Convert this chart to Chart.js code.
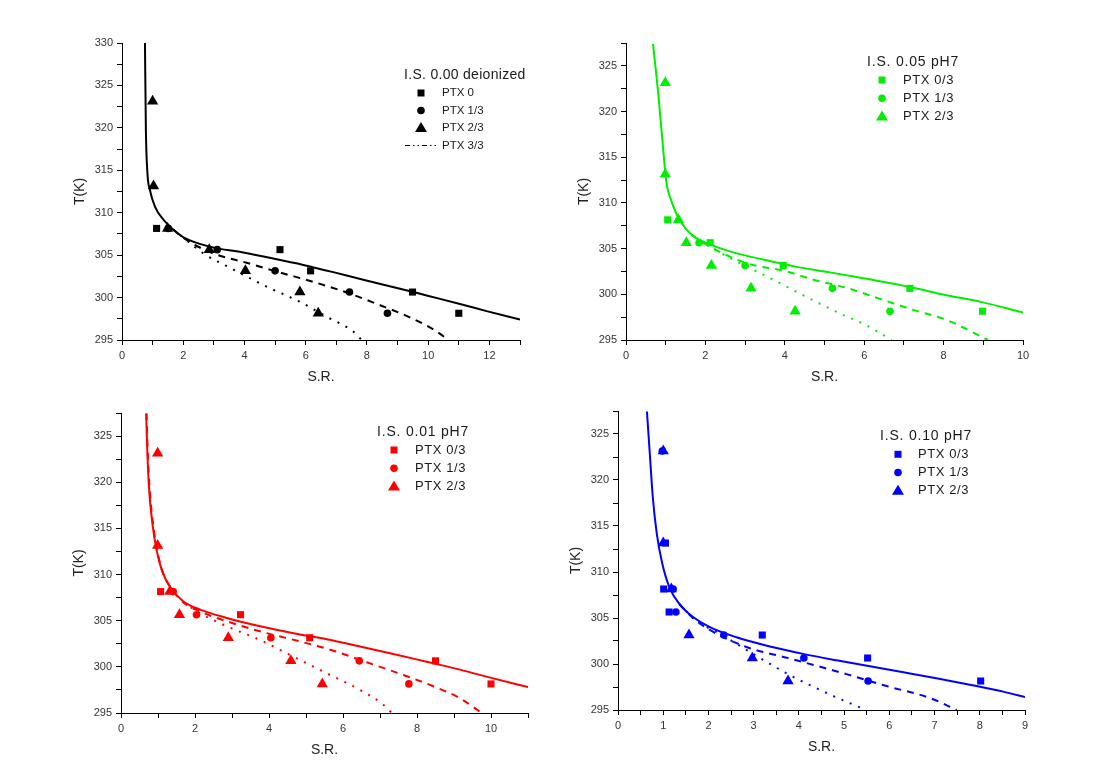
<!DOCTYPE html>
<html>
<head>
<meta charset="utf-8">
<title>T(K) vs S.R.</title>
<script src="https://cdn.jsdelivr.net/npm/chart.js@4.4.1/dist/chart.umd.min.js"></script>
<style>
    html, body { margin: 0; padding: 0; background: #fff; }
    body { width: 1095px; height: 772px; position: relative; overflow: hidden; }
    canvas { position: absolute; }
</style>
</head>
<body>
<canvas id="chart-di" style="left:60px;top:30px" width="475" height="360"></canvas>
<canvas id="chart-005" style="left:564px;top:30px" width="474" height="360"></canvas>
<canvas id="chart-001" style="left:59px;top:400px" width="484" height="363"></canvas>
<canvas id="chart-010" style="left:556px;top:398px" width="484" height="362"></canvas>
<script>
// T(K) vs S.R. - four ionic strength panels

const FONT = '"Liberation Sans", Arial, Helvetica, sans-serif';

// temperature levels used in the experiments
const T_ALL = [323.15, 313.15, 308.15, 305.65, 303.15, 300.65, 298.15];
const T_LOW = [308.15, 305.65, 303.15, 300.65, 298.15];

// I.S. 0.00 deionized
const diSquareX = [1.13, 5.16, 6.16, 9.49, 11.0];
const diCircleX = [1.51, 3.11, 5.0, 7.43, 8.67];
const diTriangleX = [1.0, 1.03, 1.49, 2.85, 4.03, 5.81, 6.41];
const diSolidX = [0.75, 0.78, 0.83, 0.91, 1.08, 1.35, 1.68, 2.06, 2.87, 3.96, 4.94, 5.92, 6.9, 7.88, 9.08, 9.95, 11.04, 11.91, 13.0];
const diSolidT = [330, 319.8, 314.7, 312.7, 310.7, 309.2, 308.0, 307.0, 306.0, 305.3, 304.6, 303.85, 303.0, 302.1, 301.05, 300.25, 299.25, 298.4, 297.4];
const diDashX = [1.68, 2.06, 2.98, 4.07, 5.16, 6.25, 7.34, 8.43, 9.41, 10.28, 10.66];
const diDashT = [308.0, 306.9, 305.2, 304.1, 302.95, 301.85, 300.6, 299.1, 297.65, 296.0, 295.0];
const diDotX = [1.68, 2.06, 2.66, 3.64, 4.72, 5.81, 6.68, 7.55, 7.83];
const diDotT = [308.0, 306.9, 305.2, 303.3, 301.3, 299.5, 297.75, 296.0, 295.0];

// I.S. 0.05 pH7
const s05SquareX = [1.05, 2.12, 3.96, 7.15, 8.98];
const s05CircleX = [1.84, 3.0, 5.2, 6.65];
const s05CircleT = [305.65, 303.15, 300.65, 298.15];
const s05TriangleX = [0.99, 0.99, 1.32, 1.52, 2.15, 3.15, 4.26];
const s05SolidX = [0.68, 0.82, 0.93, 1.01, 1.16, 1.37, 1.66, 2.04, 2.62, 3.46, 4.3, 5.14, 5.98, 7.15, 8.07, 8.91, 10.0];
const s05SolidT = [327.4, 321.6, 316.2, 312.5, 310.0, 308.0, 306.5, 305.6, 304.7, 303.8, 303.0, 302.4, 301.75, 300.8, 299.9, 299.2, 298.0];
const s05DashX = [1.66, 2.12, 3.04, 4.05, 4.72, 5.56, 6.4, 7.23, 8.07, 9.12];
const s05DashT = [306.5, 305.2, 303.4, 302.5, 301.6, 300.7, 299.5, 298.3, 297.2, 295.0];
const s05DotX = [1.66, 2.12, 2.88, 3.71, 4.55, 5.39, 6.06, 6.69];
const s05DotT = [306.5, 305.2, 303.4, 301.6, 299.7, 297.9, 296.6, 295.0];

// I.S. 0.01 pH7
const s01SquareX = [1.07, 3.23, 5.1, 8.5, 10.0];
const s01CircleX = [1.41, 2.04, 4.05, 6.44, 7.78];
const s01TriangleX = [0.99, 0.99, 1.32, 1.58, 2.9, 4.59, 5.44];
const s01SolidX = [0.68, 0.71, 0.76, 0.86, 0.96, 1.1, 1.32, 1.68, 2.14, 2.86, 3.76, 4.66, 5.56, 6.46, 7.36, 8.26, 9.16, 10.06, 11.0];
const s01SolidT = [327.45, 323.5, 319.2, 315.2, 312.7, 310.5, 308.7, 307.1, 306.2, 305.3, 304.4, 303.65, 303.0, 302.2, 301.4, 300.55, 299.7, 298.75, 297.8];
const s01DashX = [0.69, 0.73, 0.8, 0.9, 1.0, 1.15, 1.4, 1.68, 2.14, 3.04, 3.94, 4.84, 5.74, 6.64, 7.54, 8.44, 9.16, 9.75];
const s01DashT = [327.45, 322.5, 318.0, 314.5, 312.2, 310.0, 308.3, 307.0, 306.0, 304.7, 303.65, 302.75, 301.75, 300.5, 299.25, 297.9, 296.6, 295.0];
const s01DotX = [1.68, 2.14, 2.86, 3.76, 4.66, 5.56, 6.46, 7.09, 7.32];
const s01DotT = [307.0, 305.8, 304.4, 302.9, 301.1, 299.3, 297.5, 295.9, 295.0];

// I.S. 0.10 pH7
const s10SquareX = [1.05, 1.01, 1.13, 3.19, 5.52, 8.02];
const s10SquareT = [313.15, 308.15, 305.65, 303.15, 300.65, 298.15];
const s10CircleX = [0.98, 1.22, 1.28, 2.34, 4.11, 5.53];
const s10CircleT = [323.15, 308.15, 305.65, 303.15, 300.65, 298.15];
const s10TriangleX = [1.0, 1.0, 1.18, 1.57, 2.97, 3.76];
const s10TriangleT = [323.15, 313.15, 308.15, 303.15, 300.65, 298.15];
const s10SolidX = [0.64, 0.7, 0.77, 0.86, 0.98, 1.14, 1.36, 1.66, 2.03, 2.62, 3.36, 4.09, 4.83, 5.57, 6.31, 7.04, 7.78, 8.52, 9.0];
const s10SolidT = [327.45, 323.1, 318.1, 314.1, 310.9, 308.3, 306.5, 305.1, 304.0, 302.9, 301.9, 301.1, 300.4, 299.75, 299.1, 298.45, 297.75, 297.0, 296.4];
const s10DashX = [1.36, 1.66, 2.03, 2.84, 3.8, 5.05, 5.94, 6.9, 7.49];
const s10DashT = [306.5, 305.0, 303.7, 301.85, 300.6, 298.9, 297.6, 296.3, 295.0];
const s10DotX = [1.36, 1.73, 2.25, 2.99, 3.72, 4.46, 5.05, 5.49];
const s10DotT = [306.5, 304.7, 303.3, 301.1, 299.0, 297.2, 295.9, 295.0];

const LABELS_DI = ['PTX 0', 'PTX 1/3', 'PTX 2/3', 'PTX 3/3'];
const LABELS_PH7 = ['PTX 0/3', 'PTX 1/3', 'PTX 2/3'];

function pts(xs, ys) {
    return xs.map((x, i) => ({ x, y: ys[i] }));
}

function markers(xs, ys, style, radius, color, order) {
    return {
        data: pts(xs, ys),
        pointStyle: style,
        pointRadius: radius,
        pointBackgroundColor: color,
        pointBorderColor: color,
        pointBorderWidth: 0,
        showLine: false,
        order
    };
}

function curve(xs, ys, dash, color) {
    return {
        data: pts(xs, ys),
        showLine: true,
        borderColor: color,
        borderWidth: 2,
        borderDash: dash,
        pointRadius: 0,
        cubicInterpolationMode: 'monotone',
        fill: false,
        order: 5
    };
}

function drawSymbol(ctx, style, x, y, color) {
    ctx.fillStyle = color;
    ctx.strokeStyle = color;
    ctx.beginPath();
    if (style === 'rect') {
        ctx.rect(x - 3.5, y - 3.5, 7, 7);
        ctx.fill();
    } else if (style === 'circle') {
        ctx.arc(x, y, 3.8, 0, Math.PI * 2);
        ctx.fill();
    } else if (style === 'triangle') {
        ctx.moveTo(x, y - 6);
        ctx.lineTo(x + 6, y + 4);
        ctx.lineTo(x - 6, y + 4);
        ctx.closePath();
        ctx.fill();
    } else if (style === 'dashdot') {
        ctx.lineWidth = 1.2;
        ctx.setLineDash([5, 3, 1.5, 3, 1.5, 3]);
        ctx.moveTo(x - 16, y);
        ctx.lineTo(x + 17, y);
        ctx.stroke();
        ctx.setLineDash([]);
    }
}

// legend drawn inside the plot area, like the original figure
function insetLegend(cfg) {
    return {
        id: 'insetLegend',
        afterDatasetsDraw(chart) {
            const { ctx, chartArea } = chart;
            const x0 = chartArea.left;
            const y0 = chartArea.top;
            ctx.save();
            ctx.textBaseline = 'middle';
            ctx.textAlign = 'left';
            ctx.fillStyle = '#1a1a1a';
            ctx.font = cfg.titleSize + 'px ' + FONT;
            ctx.letterSpacing = cfg.titleSpacing;
            ctx.fillText(cfg.title, x0 + cfg.titleX, y0 + cfg.titleY);
            ctx.font = cfg.itemSize + 'px ' + FONT;
            ctx.letterSpacing = cfg.itemSpacing;
            cfg.labels.forEach((label, i) => {
                const y = y0 + cfg.rowY + i * cfg.rowGap;
                drawSymbol(ctx, cfg.symbols[i], x0 + cfg.symbolX, y, cfg.color);
                ctx.fillStyle = '#1a1a1a';
                ctx.fillText(label, x0 + cfg.textX, y);
            });
            ctx.restore();
        }
    };
}

function makeChart(id, datasets, axes, legendCfg) {
    const ctx = document.getElementById(id);
    return new Chart(ctx, {
        type: 'scatter',
        data: { datasets },
        options: {
            responsive: false,
            devicePixelRatio: 1,
            animation: false,
            layout: { padding: { top: 13, right: 15, bottom: 0, left: 0 } },
            plugins: {
                legend: { display: false },
                tooltip: { enabled: false }
            },
            scales: {
                x: {
                    type: 'linear',
                    min: 0,
                    max: axes.xMax,
                    afterFit: (scale) => { scale.height = 50; },
                    border: { color: '#000', width: 1 },
                    grid: { drawOnChartArea: false, drawTicks: true, tickLength: 5, color: '#000' },
                    ticks: {
                        stepSize: axes.xStep,
                        autoSkip: false,
                        maxRotation: 0,
                        padding: 4,
                        color: '#333',
                        font: { size: 11, family: FONT },
                        callback: (v) => (Math.abs(v / axes.xLabelEvery - Math.round(v / axes.xLabelEvery)) < 1e-6 ? v : '')
                    },
                    title: {
                        display: true,
                        text: 'S.R.',
                        color: '#222',
                        font: { size: 14, family: FONT },
                        padding: { top: 0, bottom: 4 }
                    }
                },
                y: {
                    type: 'linear',
                    min: 295,
                    max: axes.yMax,
                    afterFit: (scale) => { scale.width = 62; },
                    border: { color: '#000', width: 1 },
                    grid: { drawOnChartArea: false, drawTicks: true, tickLength: 5, color: '#000' },
                    ticks: {
                        stepSize: 2.5,
                        autoSkip: false,
                        padding: 4,
                        color: '#333',
                        font: { size: 11, family: FONT },
                        callback: (v) => (v % 5 === 0 ? v : '')
                    },
                    title: {
                        display: true,
                        text: 'T(K)',
                        color: '#222',
                        font: { size: 14, family: FONT },
                        padding: { top: 12, bottom: 0 }
                    }
                }
            }
        },
        plugins: [insetLegend(legendCfg)]
    });
}

document.addEventListener('DOMContentLoaded', () => {
    const black = '#000000';
    const green = '#00ee00';
    const red = '#ff0000';
    const blue = '#0000ff';

    makeChart('chart-di', [
        markers(diSquareX, T_LOW, 'rect', 5, black, 3),
        markers(diCircleX, T_LOW, 'circle', 3.8, black, 2),
        markers(diTriangleX, T_ALL, 'triangle', 6.5, black, 1),
        curve(diSolidX, diSolidT, [], black),
        curve(diDashX, diDashT, [7, 6], black),
        curve(diDotX, diDotT, [2, 7], black)
    ], { xMax: 13, xStep: 1, xLabelEvery: 2, yMax: 330 }, {
        title: 'I.S. 0.00 deionized', labels: LABELS_DI,
        symbols: ['rect', 'circle', 'triangle', 'dashdot'], color: black,
        titleSize: 14, titleSpacing: '0.3px', itemSize: 11.5, itemSpacing: '0px',
        titleX: 282, titleY: 32, symbolX: 299, textX: 320, rowY: 50, rowGap: 17.5
    });

    makeChart('chart-005', [
        markers(s05SquareX, T_LOW, 'rect', 5, green, 3),
        markers(s05CircleX, s05CircleT, 'circle', 3.8, green, 2),
        markers(s05TriangleX, T_ALL, 'triangle', 6.5, green, 1),
        curve(s05SolidX, s05SolidT, [], green),
        curve(s05DashX, s05DashT, [7, 6], green),
        curve(s05DotX, s05DotT, [2, 7], green)
    ], { xMax: 10, xStep: 1, xLabelEvery: 2, yMax: 327.5 }, {
        title: 'I.S. 0.05 pH7', labels: LABELS_PH7,
        symbols: ['rect', 'circle', 'triangle'], color: green,
        titleSize: 14, titleSpacing: '0.8px', itemSize: 13, itemSpacing: '0.6px',
        titleX: 241, titleY: 19, symbolX: 256, textX: 277, rowY: 37, rowGap: 18.3
    });

    makeChart('chart-001', [
        markers(s01SquareX, T_LOW, 'rect', 5, red, 3),
        markers(s01CircleX, T_LOW, 'circle', 3.8, red, 2),
        markers(s01TriangleX, T_ALL, 'triangle', 6.5, red, 1),
        curve(s01SolidX, s01SolidT, [], red),
        curve(s01DashX, s01DashT, [7, 6], red),
        curve(s01DotX, s01DotT, [2, 7], red)
    ], { xMax: 11, xStep: 1, xLabelEvery: 2, yMax: 327.5 }, {
        title: 'I.S. 0.01 pH7', labels: LABELS_PH7,
        symbols: ['rect', 'circle', 'triangle'], color: red,
        titleSize: 14, titleSpacing: '0.8px', itemSize: 13, itemSpacing: '0.6px',
        titleX: 256, titleY: 19, symbolX: 273, textX: 294, rowY: 37, rowGap: 18.3
    });

    makeChart('chart-010', [
        markers(s10SquareX, s10SquareT, 'rect', 5, blue, 3),
        markers(s10CircleX, s10CircleT, 'circle', 3.8, blue, 2),
        markers(s10TriangleX, s10TriangleT, 'triangle', 6.5, blue, 1),
        curve(s10SolidX, s10SolidT, [], blue),
        curve(s10DashX, s10DashT, [7, 6], blue),
        curve(s10DotX, s10DotT, [2, 7], blue)
    ], { xMax: 9, xStep: 0.5, xLabelEvery: 1, yMax: 327.5 }, {
        title: 'I.S. 0.10 pH7', labels: LABELS_PH7,
        symbols: ['rect', 'circle', 'triangle'], color: blue,
        titleSize: 14, titleSpacing: '0.8px', itemSize: 13, itemSpacing: '0.6px',
        titleX: 262, titleY: 25, symbolX: 280, textX: 300, rowY: 43.3, rowGap: 18.2
    });
});
</script>
</body>
</html>
